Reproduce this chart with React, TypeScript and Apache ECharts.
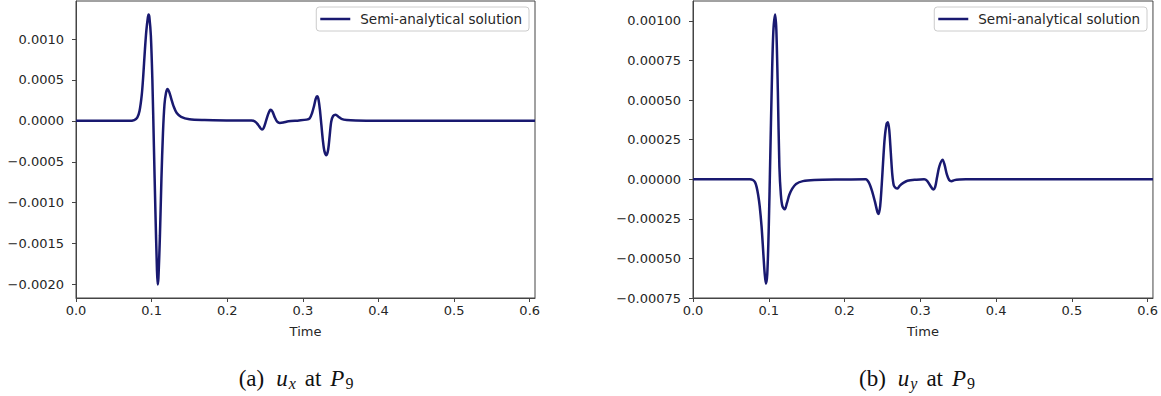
import React, { useEffect, useRef } from "react";
import * as echarts from "echarts";

const SERIES_NAME = "Semi-analytical solution";

// (a) u_x at P9
const T_UX = [
  0.0, 0.07, 0.077, 0.081, 0.084, 0.087, 0.089, 0.091, 0.093, 0.095, 0.096, 0.097, 0.099, 0.101, 0.103,
  0.105, 0.107, 0.108, 0.109, 0.111, 0.113, 0.115, 0.117, 0.119, 0.121, 0.123, 0.126, 0.129, 0.133,
  0.139, 0.15, 0.17, 0.2, 0.232, 0.237, 0.241, 0.244, 0.246, 0.248, 0.251, 0.254, 0.2565, 0.2578, 0.26,
  0.263, 0.266, 0.2695, 0.274, 0.281, 0.295, 0.305, 0.309, 0.312, 0.315, 0.317, 0.3188, 0.3205, 0.3225,
  0.3245, 0.3265, 0.3285, 0.3312, 0.3335, 0.3355, 0.3375, 0.34, 0.3435, 0.347, 0.351, 0.358, 0.37, 0.4,
  0.607,
];
const UX = [
  0, 0, 0.00001, 0.00004, 0.00012, 0.00032, 0.00056, 0.00085, 0.0011, 0.00126, 0.0013, 0.00127, 0.00104,
  0.0005, -0.0003, -0.0011, -0.0018, -0.002, -0.00192, -0.0014, -0.0007, -0.00015, 0.0002, 0.00034,
  0.00039, 0.00036, 0.00027, 0.00018, 0.0001, 0.00005, 0.00002, 0.00001, 0.000005, 0.000003, -0.00001,
  -0.00005, -0.00009, -0.000105, -0.00009, -0.00001, 0.00008, 0.00013, 0.000135, 0.00011, 0.00004,
  -0.00001, -0.000025, -0.00002, -0.000005, 0.000005, 0.000015, 0.00003, 0.00009, 0.00019, 0.00027,
  0.0003, 0.00027, 0.00014, -0.00005, -0.00024, -0.00037, -0.00042, -0.00035, -0.00018, -0.00001,
  0.00006, 0.000075, 0.00005, 0.000025, 0.00001, 0.000003, 0, 0,
];

// (b) u_y at P9
const T_UY = [
  0.0, 0.075, 0.079, 0.082, 0.084, 0.086, 0.088, 0.0905, 0.0927, 0.0945, 0.0962, 0.098, 0.1, 0.102, 0.104,
  0.106, 0.1084, 0.11, 0.112, 0.114, 0.116, 0.118, 0.1211, 0.124, 0.127, 0.131, 0.136, 0.145, 0.16, 0.2,
  0.228, 0.232, 0.236, 0.24, 0.2435, 0.2449, 0.247, 0.249, 0.251, 0.253, 0.2555, 0.2572, 0.259, 0.261,
  0.263, 0.265, 0.2675, 0.2698, 0.273, 0.277, 0.283, 0.295, 0.305, 0.309, 0.313, 0.3171, 0.3195, 0.322,
  0.325, 0.3294, 0.332, 0.335, 0.338, 0.3412, 0.345, 0.352, 0.36, 0.607,
];
const UY = [
  0, 0, -0.000005, -0.00002, -0.00005, -0.0001, -0.00017, -0.0003, -0.00046, -0.00059, -0.00066, -0.0006,
  -0.0003, 0.00015, 0.0006, 0.00093, 0.00104, 0.00094, 0.00055, 0.00008, -0.0001, -0.00017, -0.00019,
  -0.00015, -0.0001, -0.00006, -0.00003, -0.000012, -0.000005, -0.000002, 0, -0.00002, -0.00007,
  -0.00014, -0.00021, -0.00022, -0.00017, -0.00004, 0.00012, 0.00026, 0.00035, 0.00036, 0.00031,
  0.00017, 0.00003, -0.00004, -0.000055, -0.000058, -0.00004, -0.000025, -0.00001, -0.000003, 0,
  -0.00001, -0.00004, -0.000065, -0.00005, 0.00001, 0.00008, 0.000123, 0.00009, 0.00003, -0.000005,
  -0.000013, -0.000006, -0.000002, 0, 0,
];

const X_TICKS = [0, 0.1, 0.2, 0.3, 0.4, 0.5, 0.6];
const Y_TICKS_UX = [-0.002, -0.0015, -0.001, -0.0005, 0, 0.0005, 0.001];
const Y_TICKS_UY = [-0.00075, -0.0005, -0.00025, 0, 0.00025, 0.0005, 0.00075, 0.001];

const LINE_COLOR = "#191970";
const AXIS_COLOR = "#444";
const TEXT_COLOR = "#262626";
const FONT = "DejaVu Sans";
const SERIF = "Liberation Serif";

function fmt(v: number, d: number) {
  if (Math.abs(v) < 1e-12) return (0).toFixed(d);
  return v < 0 ? "\u2212" + Math.abs(v).toFixed(d) : v.toFixed(d);
}

function xAxis(gridIndex: number) {
  return {
    type: "value",
    gridIndex,
    min: 0,
    max: 0.607,
    name: "Time",
    nameLocation: "middle",
    nameGap: 27,
    nameTextStyle: { fontFamily: FONT, fontSize: 13, color: TEXT_COLOR },
    axisLine: { show: true, onZero: false, lineStyle: { color: AXIS_COLOR, width: 1 } },
    axisTick: { show: true, inside: false, length: 4, customValues: X_TICKS, lineStyle: { color: AXIS_COLOR } },
    axisLabel: {
      customValues: X_TICKS,
      formatter: (v: number) => v.toFixed(1),
      fontFamily: FONT,
      fontSize: 13,
      color: TEXT_COLOR,
      margin: 6,
    },
    splitLine: { show: false },
  };
}

function yAxis(gridIndex: number, min: number, max: number, ticks: number[], d: number) {
  return {
    type: "value",
    gridIndex,
    min,
    max,
    axisLine: { show: true, onZero: false, lineStyle: { color: AXIS_COLOR, width: 1 } },
    axisTick: { show: true, inside: false, length: 4, customValues: ticks, lineStyle: { color: AXIS_COLOR } },
    axisLabel: {
      customValues: ticks,
      formatter: (v: number) => fmt(v, d),
      fontFamily: FONT,
      fontSize: 13,
      color: TEXT_COLOR,
      margin: 12,
    },
    splitLine: { show: false },
  };
}

function legend(right: number) {
  return {
    data: [SERIES_NAME],
    right,
    top: 7,
    orient: "vertical",
    icon: "rect",
    itemWidth: 30,
    itemHeight: 2.5,
    padding: [5, 7, 5, 4],
    backgroundColor: "rgba(255,255,255,0.8)",
    borderColor: "#cccccc",
    borderWidth: 1,
    borderRadius: 3,
    textStyle: { fontFamily: FONT, fontSize: 13.5, color: TEXT_COLOR, padding: [0, 0, 0, 5] },
  };
}

function caption(cx: number, letter: string, comp: string) {
  return {
    type: "text",
    x: cx,
    y: 378,
    style: {
      text: `{n|(${letter})}{i|u}{s|${comp}}{g|at}{i|P}{s9|9}`,
      align: "center",
      verticalAlign: "middle",
      rich: {
        n: { fontFamily: SERIF, fontSize: 23, fill: "#111", padding: [0, 12, 0, 0] },
        i: { fontFamily: SERIF, fontStyle: "italic", fontSize: 23, fill: "#111" },
        g: { fontFamily: SERIF, fontSize: 23, fill: "#111", padding: [0, 9, 0, 9] },
        s: { fontFamily: SERIF, fontStyle: "italic", fontSize: 16, fill: "#111", padding: [11, 0, 0, 1] },
        s9: { fontFamily: SERIF, fontSize: 16, fill: "#111", padding: [11, 0, 0, 1] },
      },
    },
  };
}

export default function App() {
  const ref = useRef<HTMLDivElement>(null);
  useEffect(() => {
    if (!ref.current) return;
    const chart = echarts.init(ref.current, undefined, { renderer: "svg" });
    const uxData = T_UX.map((t, i) => [t, UX[i]]);
    const uyData = T_UY.map((t, i) => [t, UY[i]]);
    chart.setOption({
      animation: false,
      backgroundColor: "#ffffff",
      grid: [
        { left: 76, top: 1, width: 459, height: 297, show: true, borderColor: AXIS_COLOR, borderWidth: 1 },
        { left: 693, top: 1, width: 460, height: 297, show: true, borderColor: AXIS_COLOR, borderWidth: 1 },
      ],
      xAxis: [xAxis(0), xAxis(1)],
      yAxis: [
        yAxis(0, -0.002165, 0.001465, Y_TICKS_UX, 4),
        yAxis(1, -0.00075, 0.001125, Y_TICKS_UY, 5),
      ],
      legend: [legend(632), legend(14)],
      series: [
        {
          type: "line",
          name: SERIES_NAME,
          xAxisIndex: 0,
          yAxisIndex: 0,
          data: uxData,
          showSymbol: false,
          smooth: 0.3,
          lineStyle: { color: LINE_COLOR, width: 2.5 },
          itemStyle: { color: LINE_COLOR },
        },
        {
          type: "line",
          name: SERIES_NAME,
          xAxisIndex: 1,
          yAxisIndex: 1,
          data: uyData,
          showSymbol: false,
          smooth: 0.3,
          lineStyle: { color: LINE_COLOR, width: 2.5 },
          itemStyle: { color: LINE_COLOR },
        },
      ],
      graphic: [caption(296, "a", "x"), caption(917, "b", "y")],
    });
    return () => chart.dispose();
  }, []);
  return (
    <div
      ref={ref}
      style={{ position: "fixed", left: 0, top: 0, width: 1161, height: 396, background: "#fff" }}
    />
  );
}
